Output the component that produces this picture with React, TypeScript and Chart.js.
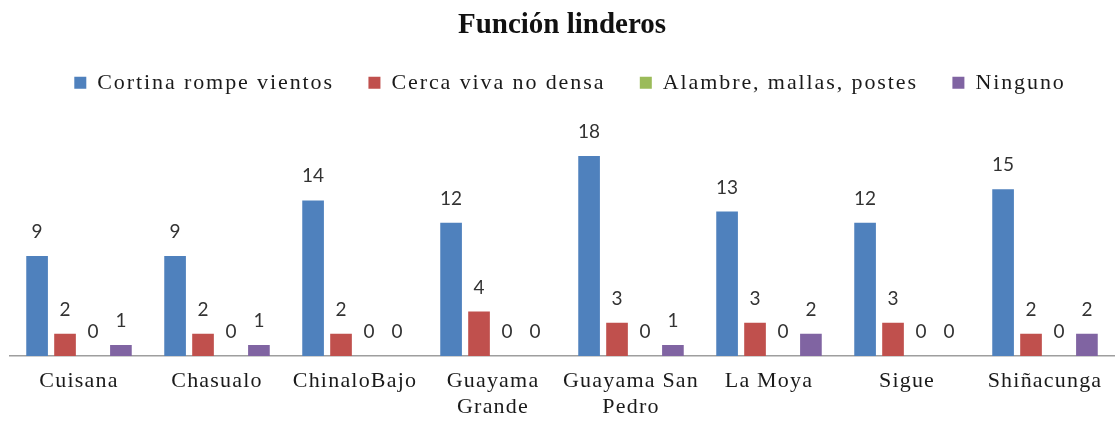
import React, { useEffect, useRef } from 'react';
import { Chart, registerables } from 'chart.js';

Chart.register(...registerables);

const TITLE = 'Función linderos';
const categories: (string | string[])[] = [
  'Cuisana',
  'Chasualo',
  'ChinaloBajo',
  ['Guayama', 'Grande'],
  ['Guayama San', 'Pedro'],
  'La Moya',
  'Sigue',
  'Shiñacunga',
];
const seriesNames = ['Cortina rompe vientos', 'Cerca viva no densa', 'Alambre, mallas, postes', 'Ninguno'];
const cortina = [9, 9, 14, 12, 18, 13, 12, 15];
const cerca = [2, 2, 2, 4, 3, 3, 3, 2];
const alambre = [0, 0, 0, 0, 0, 0, 0, 0];
const ninguno = [1, 1, 0, 0, 1, 2, 0, 2];
const seriesColors = ['#4F81BD', '#C0504D', '#9BBB59', '#8064A2'];

const LEGEND_LETTER_SPACING = '1.9px';
const TICK_LETTER_SPACING = '1.2px';
const LEGEND_PADDING = 34.5;
const LEGEND_EXTRA = 24.5;
const LEGEND_DX = 8;
const LEGEND_DY = -5.5;
const LABEL_GAP = 18;

const patchPlugin = {
  id: 'patchPlugin',
  beforeLayout(chart: any) {
    const lg = chart.legend;
    if (lg && !lg.__patched) {
      lg.__patched = true;
      const fit = lg.fit.bind(lg);
      const draw = lg.draw.bind(lg);
      lg.fit = () => {
        const c = lg.ctx;
        c.save();
        c.letterSpacing = LEGEND_LETTER_SPACING;
        fit();
        c.restore();
        lg.height += LEGEND_EXTRA;
      };
      lg.draw = (...a: any[]) => {
        const c = lg.ctx;
        c.save();
        c.letterSpacing = LEGEND_LETTER_SPACING;
        c.translate(LEGEND_DX, LEGEND_DY);
        draw(...a);
        c.restore();
      };
    }
    const xs = chart.scales && chart.scales.x;
    if (xs && !xs.__patched) {
      xs.__patched = true;
      const dl = xs.drawLabels.bind(xs);
      xs.drawLabels = (...a: any[]) => {
        const c = xs.ctx;
        c.save();
        c.letterSpacing = TICK_LETTER_SPACING;
        dl(...a);
        c.restore();
      };
    }
  },
};

const dataLabelPlugin = {
  id: 'dataLabels',
  afterDatasetsDraw(chart: any) {
    const ctx = chart.ctx;
    ctx.save();
    ctx.letterSpacing = '0px';
    ctx.font = '19px Lato';
    ctx.fillStyle = '#333333';
    ctx.textAlign = 'center';
    ctx.textBaseline = 'alphabetic';
    chart.data.datasets.forEach((ds: any, i: number) => {
      const meta = chart.getDatasetMeta(i);
      meta.data.forEach((el: any, j: number) => {
        ctx.fillText(String(ds.data[j]), el.x, el.y - LABEL_GAP);
      });
    });
    ctx.restore();
  },
};

export default function App() {
  const ref = useRef<HTMLCanvasElement>(null);
  useEffect(() => {
    if (!ref.current) return;
    const series = [cortina, cerca, alambre, ninguno];
    const chart = new Chart(ref.current, {
      type: 'bar',
      data: {
        labels: categories,
        datasets: series.map((d, i) => ({
          label: seriesNames[i],
          data: d,
          backgroundColor: seriesColors[i],
          borderWidth: 0,
          categoryPercentage: 0.81,
          barPercentage: 0.775,
        })),
      },
      options: {
        responsive: false,
        animation: false,
        layout: { padding: { left: 10, right: 2, top: 0, bottom: 0 } },
        plugins: {
          title: {
            display: true,
            text: TITLE,
            color: '#111',
            font: { family: '"Liberation Serif", "Times New Roman", serif', size: 29, weight: 'bold', lineHeight: 1.2 },
            padding: { top: 8, bottom: 0 },
          },
          legend: {
            display: true,
            position: 'top',
            labels: {
              boxWidth: 12,
              boxHeight: 12,
              padding: LEGEND_PADDING,
              color: '#1a1a1a',
              font: { family: '"Liberation Serif", "Times New Roman", serif', size: 22 },
            },
          },
          tooltip: { enabled: false },
        },
        scales: {
          x: {
            grid: { display: false, drawTicks: false },
            border: { display: true, color: '#9e9e9e', width: 1.5 },
            ticks: {
              color: '#1a1a1a',
              padding: 12,
              autoSkip: false,
              maxRotation: 0,
              minRotation: 0,
              font: { family: '"Liberation Serif", "Times New Roman", serif', size: 22, lineHeight: 1.2 },
            },
            afterFit: (axis: any) => {
              axis.height = 65;
            },
          },
          y: {
            display: false,
            min: 0,
            max: 20,
            grid: { display: false },
          },
        },
      },
      plugins: [patchPlugin, dataLabelPlugin],
    } as any);
    return () => chart.destroy();
  }, []);
  return (
    <div style={{ position: 'fixed', left: 0, top: 0, width: 1116, height: 421, background: '#fff' }}>
      <canvas ref={ref} width={1116} height={421} style={{ display: 'block' }} />
    </div>
  );
}
